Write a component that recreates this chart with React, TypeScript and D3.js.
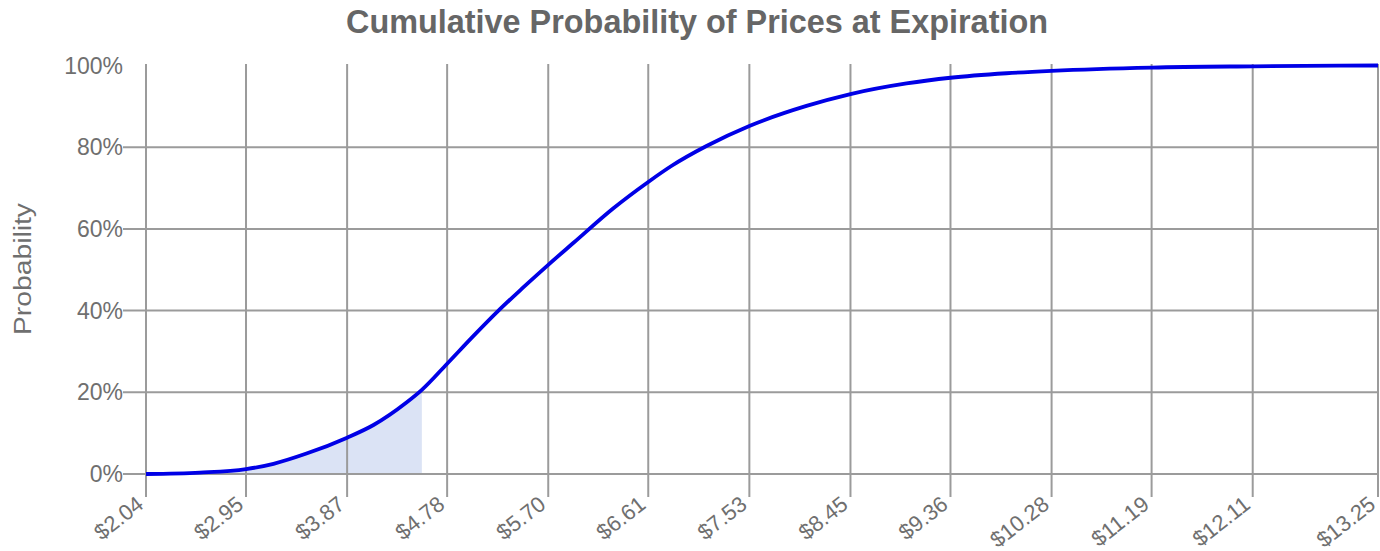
import React from "react";
import * as d3 from "d3";

const prices = [2.04, 2.53, 2.95, 3.2, 3.5, 3.87, 4.11, 4.41, 4.55, 4.78, 5.02, 5.24, 5.47, 5.7, 5.93, 6.29, 6.61, 6.82, 7.14, 7.53, 8.05, 8.45, 8.96, 9.36, 9.87, 10.28, 11.19, 12.11, 13.25];
const cumProb = [0, 0.35, 1.2, 2.5, 5.0, 8.9, 12.0, 17.5, 20.6, 27.0, 33.8, 39.8, 45.6, 51.2, 56.6, 65.0, 71.5, 75.4, 80.3, 85.2, 90.1, 93.0, 95.6, 97.0, 98.1, 98.7, 99.5, 99.8, 100];
const xTickPrices = [2.04, 2.95, 3.87, 4.78, 5.7, 6.61, 7.53, 8.45, 9.36, 10.28, 11.19, 12.11, 13.25];
const yTickValues = [0, 20, 40, 60, 80, 100];
const shadeUntilPrice = 4.55;
const titleText = "Cumulative Probability of Prices at Expiration";
const yAxisTitle = "Probability";

export default function App() {
  const W = 1380;
  const H = 551;
  const x = d3.scaleLinear().domain([2.04, 13.25]).range([146, 1378]);
  const y = d3.scaleLinear().domain([0, 100]).range([474, 65.5]);
  const pts = prices.map((p, i) => ({ p, v: cumProb[i] }));
  const line = d3
    .line<{ p: number; v: number }>()
    .x((d) => x(d.p))
    .y((d) => y(d.v))
    .curve(d3.curveMonotoneX);
  const area = d3
    .area<{ p: number; v: number }>()
    .x((d) => x(d.p))
    .y0(y(0))
    .y1((d) => y(d.v))
    .curve(d3.curveMonotoneX);
  const gridColor = "#9b9b9b";
  const labelColor = "#6f6f6f";
  const font = "Arial, 'Liberation Sans', sans-serif";
  return (
    <svg
      width={W}
      height={H}
      style={{ position: "absolute", left: 0, top: 0, background: "#fff" }}
    >
      <defs>
        <clipPath id="shadeClip">
          <rect x={x(2.04)} y={0} width={x(shadeUntilPrice) - x(2.04)} height={H} />
        </clipPath>
      </defs>
      <path d={area(pts) || ""} fill="#dbe3f5" clipPath="url(#shadeClip)" />
      {yTickValues
        .filter((v) => v < 100)
        .map((v) => (
          <line
            key={"hy" + v}
            x1={123}
            x2={x.range()[1]}
            y1={y(v)}
            y2={y(v)}
            stroke={gridColor}
            strokeWidth={2}
          />
        ))}
      {xTickPrices.map((p) => (
        <line
          key={"vx" + p}
          x1={x(p)}
          x2={x(p)}
          y1={64}
          y2={497}
          stroke={gridColor}
          strokeWidth={2}
        />
      ))}
      <path d={line(pts) || ""} fill="none" stroke="#0000e6" strokeWidth={3.8} strokeLinejoin="round" />
      {yTickValues.map((v) => (
        <text
          key={"ly" + v}
          x={123}
          y={y(v)}
          dy="0.35em"
          textAnchor="end"
          fontFamily={font}
          fontSize={23}
          fill={labelColor}
        >
          {v + "%"}
        </text>
      ))}
      {xTickPrices.map((p) => (
        <text
          key={"lx" + p}
          transform={`translate(${x(p) - 1},${507}) rotate(-38)`}
          textAnchor="end"
          fontFamily={font}
          fontSize={22}
          fill={labelColor}
        >
          {"$" + p.toFixed(2)}
        </text>
      ))}
      <text
        x={697}
        y={33}
        textAnchor="middle"
        fontFamily={font}
        fontWeight="bold"
        fontSize={32.4}
        fill="#666"
      >
        {titleText}
      </text>
      <text
        transform={`translate(31,269) rotate(-90)`}
        textAnchor="middle"
        fontFamily={font}
        fontSize={23}
        fill={labelColor}
        textLength={132}
        lengthAdjust="spacingAndGlyphs"
      >
        {yAxisTitle}
      </text>
    </svg>
  );
}
